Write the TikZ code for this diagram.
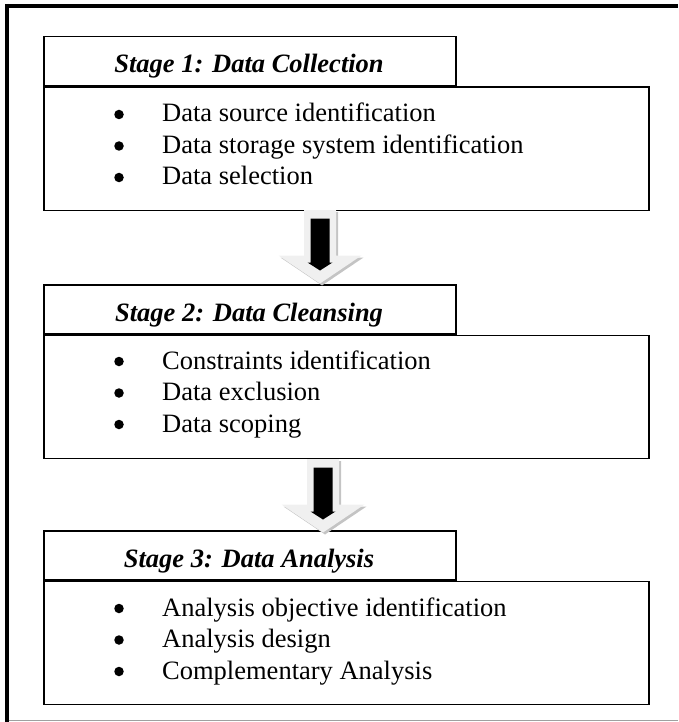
\documentclass[tikz,border=0pt]{standalone}
\usepackage{fontspec}
\setmainfont{Liberation Serif}
\definecolor{arrowfill}{HTML}{F0F0F0}
\definecolor{arrowshade}{HTML}{C4C4C4}
\definecolor{framegray}{HTML}{A0A0A0}
\begin{document}
\begin{tikzpicture}[x=1pt,y=-1pt,
  box/.style={draw=black,line width=1.5pt,inner sep=0pt,anchor=north west},
  titlebox/.style={box,minimum width=412pt,minimum height=49pt},
  bodybox/.style={box,minimum width=605pt,minimum height=123pt},
  stagetitle/.style={font=\fontsize{26.5}{30}\selectfont\bfseries\itshape,anchor=base,inner sep=0pt},
  itemtext/.style={font=\fontsize{26.5}{30}\selectfont,anchor=base west,inner sep=0pt},
  bullet/.style={circle,fill=black,draw=none,minimum size=9.5pt,inner sep=0pt},
  grayarrow/.style={fill=arrowfill,draw=none},
  grayshade/.style={fill=arrowshade,draw=none},
  blackarrow/.style={fill=black,draw=none}]
\useasboundingbox (0,0) rectangle (678,722);
% outer frame
\draw[framegray,line width=1.5pt] (5,720.5) -- (678,720.5);
\draw[black,line width=4pt] (5,6) -- (678,6);
\draw[black,line width=4pt] (7,4) -- (7,722);

% Stage 1
\node[titlebox] (t1) at (43,36) {};
\node[bodybox] (b1) at (t1.south west) {};
% Stage 2
\node[titlebox] (t2) at (43,284) {};
\node[bodybox] (b2) at (t2.south west) {};
% Stage 3
\node[titlebox] (t3) at (43,530) {};
\node[bodybox] (b3) at (t3.south west) {};

% titles (descenders clipped as in the original)
\begin{scope}
\clip (43,36) rectangle (455,78);
\node[stagetitle] (s1) at (249,73) {Stage 1: Data Collection};
\end{scope}
\begin{scope}
\clip (43,284) rectangle (455,326);
\node[stagetitle] (s2) at (249,321) {Stage 2: Data Cleansing};
\end{scope}
\begin{scope}
\clip (43,530) rectangle (455,572);
\node[stagetitle] (s3) at (249,567) {Stage 3: Data Analysis};
\end{scope}

% items
\foreach \txt [count=\i] in {Data source identification,Data storage system identification,Data selection}{
  \node[bullet] (p1\i) at (119,{122-7.5+31.5*(\i-1)}) {};
  \node[itemtext] (i1\i) at (162,{122+31.5*(\i-1)}) {\txt};
}
\foreach \txt [count=\i] in {Constraints identification,Data exclusion,Data scoping}{
  \node[bullet] (p2\i) at (119,{369-7.5+31.5*(\i-1)}) {};
  \node[itemtext] (i2\i) at (162,{369+31.5*(\i-1)}) {\txt};
}
\foreach \txt [count=\i] in {Analysis objective identification,Analysis design,Complementary Analysis}{
  \node[bullet] (p3\i) at (119,{616-7.5+31.5*(\i-1)}) {};
  \node[itemtext] (i3\i) at (162,{616+31.5*(\i-1)}) {\txt};
}

% block arrows
\coordinate (a1) at (320,208.5);
\coordinate (a2) at (323,457.5);
\foreach \a in {a1,a2}{
  \begin{scope}[shift={(\a)}]
    \fill[grayshade] (-14,3.5) -- (18,3.5) -- (18,49) -- (43.5,49) -- (2,77) -- (-39.5,49) -- (-14,49) -- cycle;
    \fill[grayarrow] (-16,1.5) -- (16,1.5) -- (16,47) -- (41.5,47) -- (0,75) -- (-41.5,47) -- (-16,47) -- cycle;
    \fill[blackarrow] (-9.5,10) -- (9.5,10) -- (9.5,54) -- (12.5,54) -- (0,62) -- (-12.5,54) -- (-9.5,54) -- cycle;
  \end{scope}
}
\end{tikzpicture}
\end{document}
